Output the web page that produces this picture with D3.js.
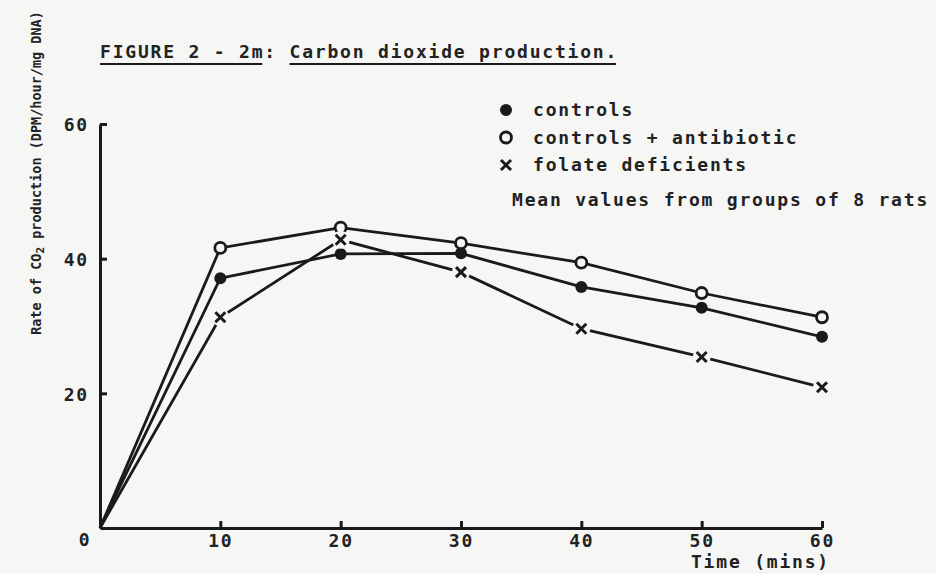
<!DOCTYPE html>
<html>
<head>
<meta charset="utf-8">
<script src="https://cdn.jsdelivr.net/npm/d3@7"></script>
<style>
  body { margin: 0; background: #f6f6f5; }
  svg { display: block; }
  text { font-family: 'DejaVu Sans Mono', 'Liberation Mono', monospace; fill: #222; font-weight: bold; }
  .big { font-size: 18px; letter-spacing: 1.8px; }
</style>
</head>
<body>
<svg class="chart" width="936" height="574"></svg>
<script>
// values
const times = [0, 10, 20, 30, 40, 50, 60];
const controls = [0, 37.1, 40.7, 40.8, 35.8, 32.7, 28.4];
const antibiotic = [0, 41.6, 44.6, 42.3, 39.4, 34.9, 31.3];
const folate = [0, 31.3, 42.8, 38.0, 29.6, 25.4, 20.9];
const xTicks = [10, 20, 30, 40, 50, 60];
const yTicks = [20, 40, 60];
const legendLabels = ['controls', 'controls + antibiotic', 'folate deficients'];

const ink = '#1a1a1a';
const bg = '#f6f6f5';

const svg = d3.select('.chart');
const x = d3.scaleLinear().domain([0, 60]).range([100, 822]);
const y = d3.scaleLinear().domain([0, 60]).range([528, 124]);

const series = [
  { name: 'controls', values: controls, marker: 'filled' },
  { name: 'antibiotic', values: antibiotic, marker: 'open' },
  { name: 'folate', values: folate, marker: 'cross' }
];

// axes, ticks point inwards like the original
const xAxis = d3.axisBottom(x).tickValues(xTicks).tickSizeInner(-7).tickSizeOuter(0).tickPadding(6);
const yAxis = d3.axisLeft(y).tickValues(yTicks).tickSizeInner(-7).tickSizeOuter(0).tickPadding(11);

const gx = svg.append('g').attr('transform', `translate(0, ${y(0)})`).call(xAxis);
const gy = svg.append('g').attr('transform', `translate(${x(0)}, 0)`).call(yAxis);
[gx, gy].forEach(g => {
  g.select('.domain').attr('stroke', ink).attr('stroke-width', 3);
  g.selectAll('.tick line').attr('stroke', ink).attr('stroke-width', 3);
  g.selectAll('.tick text').attr('class', 'big').attr('fill', '#222');
  g.attr('font-family', null).attr('font-size', null);
});
gy.selectAll('.tick text').attr('dy', '0.38em');

svg.append('text').attr('class', 'big')
  .attr('x', 85).attr('y', 546).attr('text-anchor', 'middle').text('0');

svg.append('text').attr('class', 'big')
  .attr('x', x(60) + 8).attr('y', 568).attr('text-anchor', 'end').text('Time (mins)');

// y label with subscript
const yl = svg.append('text')
  .attr('transform', 'translate(41, 173) rotate(-90)')
  .attr('text-anchor', 'middle')
  .style('font-size', '13.5px');
yl.append('tspan').text('Rate of CO');
yl.append('tspan').attr('baseline-shift', '-30%').style('font-size', '11px').text('2');
yl.append('tspan').text(' production (DPM/hour/mg DNA)');

// title with separate underlines
const title = svg.append('text').attr('class', 'big')
  .attr('x', 100).attr('y', 58)
  .text('FIGURE 2 - 2m: Carbon dioxide production.');
const cw = title.node().getComputedTextLength() / 41;
[[0, 13], [15, 26]].forEach(([s, n]) => {
  svg.append('line')
    .attr('x1', 100 + s * cw).attr('x2', 100 + (s + n) * cw - 2)
    .attr('y1', 64).attr('y2', 64)
    .attr('stroke', ink).attr('stroke-width', 1.8);
});

// lines
const line = d3.line().x((d, i) => x(times[i])).y(d => y(d));
series.forEach(s => {
  svg.append('path')
    .attr('d', line(s.values))
    .attr('fill', 'none')
    .attr('stroke', ink)
    .attr('stroke-width', 2.8);
});

const drawMarker = (g, type, cx, cy, halo) => {
  if (type === 'filled') {
    g.append('circle').attr('cx', cx).attr('cy', cy).attr('r', 6).attr('fill', ink);
  } else if (type === 'open') {
    g.append('circle').attr('cx', cx).attr('cy', cy).attr('r', 5.5)
      .attr('fill', bg).attr('stroke', ink).attr('stroke-width', 2.8);
  } else {
    if (halo) g.append('circle').attr('cx', cx).attr('cy', cy).attr('r', 9).attr('fill', bg);
    g.append('path')
      .attr('d', `M${cx - 5},${cy - 5}L${cx + 5},${cy + 5}M${cx - 5},${cy + 5}L${cx + 5},${cy - 5}`)
      .attr('stroke', ink).attr('stroke-width', 3);
  }
};

const markers = svg.append('g');
series.forEach(s => {
  s.values.forEach((v, i) => {
    if (i === 0) return;
    drawMarker(markers, s.marker, x(times[i]), y(v), true);
  });
});

// legend
const legend = svg.append('g');
legendLabels.forEach((label, i) => {
  const ly = 110 + i * 27.5;
  drawMarker(legend, series[i].marker, 506, ly, false);
  legend.append('text').attr('class', 'big')
    .attr('x', 533).attr('y', ly + 6).text(label);
});
legend.append('text').attr('class', 'big')
  .attr('x', 512).attr('y', 206).text('Mean values from groups of 8 rats');
</script>
</body>
</html>
